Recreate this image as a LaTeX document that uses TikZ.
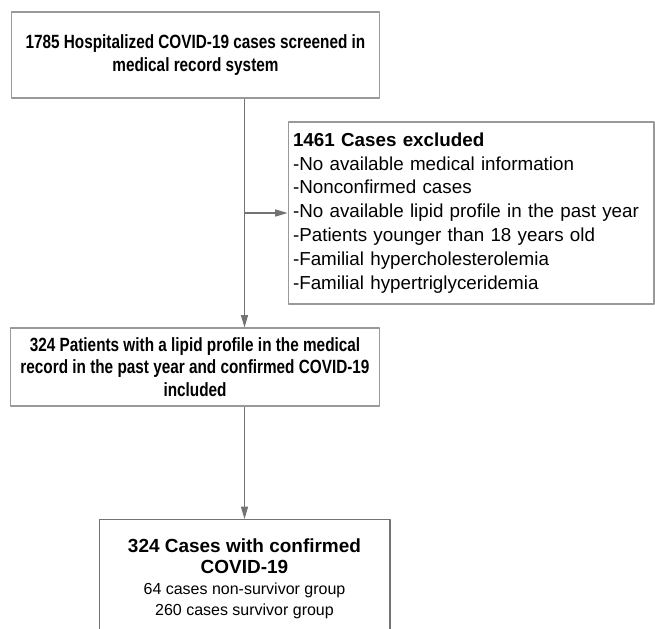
\documentclass[tikz,border=0pt]{standalone}
\usepackage{fontspec}
\setmainfont{Liberation Sans}
\newfontfamily\narrowsf{Liberation Sans}[FakeStretch=0.8]
\usetikzlibrary{arrows.meta}

\tikzset{
  box/.style={draw=black!40, line width=0.6pt, fill=white, inner sep=0pt},
  flow/.style={draw=black!55, line width=0.6pt, ->},
  headfont/.style={font=\narrowsf\bfseries\fontsize{10.9pt}{13pt}\selectfont}
}
\newcommand\bigbf{\bfseries\fontsize{10.8pt}{12.5pt}\selectfont}
\newcommand\smalltxt{\mdseries\fontsize{9.1pt}{10.5pt}\selectfont}

\begin{document}
\begin{tikzpicture}[x=0.02cm, y=-0.02cm, line join=round, >={Triangle[length=7pt,width=4pt]}]
  \useasboundingbox (0,0) rectangle (655,628);
  \clip (0,0) rectangle (655,628);
  % boxes
  \node[box, headfont, align=center, minimum width=7.38cm, minimum height=1.72cm] (screen) at (195.5,55)
    {1785 Hospitalized COVID-19 cases screened in\\medical record system};
  \node[box, align=left, text width=7.12cm, inner xsep=0.1cm, minimum height=3.64cm,
        font=\fontsize{10.7pt}{13.6pt}\selectfont] (excl) at (471,213)
    {{\bfseries 1461 Cases excluded}\\
     -No available medical information\\
     -Nonconfirmed cases\\
     -No available lipid profile in the past year\\
     -Patients younger than 18 years old\\
     -Familial hypercholesterolemia\\
     -Familial hypertriglyceridemia};
  \node[box, headfont, align=center, minimum width=7.4cm, minimum height=1.56cm] (incl) at (195,367)
    {324 Patients with a lipid profile in the medical\\record in the past year and confirmed COVID-19\\included};
  \node[box, draw=black!55, anchor=north, minimum width=5.82cm, minimum height=3.6cm] (out) at (244.5,519) {};
  \node[anchor=north, align=center, inner sep=0pt] (outtxt) at (244.5,538)
    {\bigbf 324 Cases with confirmed\\
     \bigbf COVID-19\\
     \smalltxt 64 cases non-survivor group\\
     \smalltxt 260 cases survivor group};
  % connectors
  \coordinate (split) at (out.north |- excl.west);
  \draw[flow] (screen.south -| out.north) -- (incl.north -| out.north);
  \draw[flow] (split) -- (excl.west);
  \draw[flow] (incl.south -| out.north) -- (out.north);
\end{tikzpicture}
\end{document}
